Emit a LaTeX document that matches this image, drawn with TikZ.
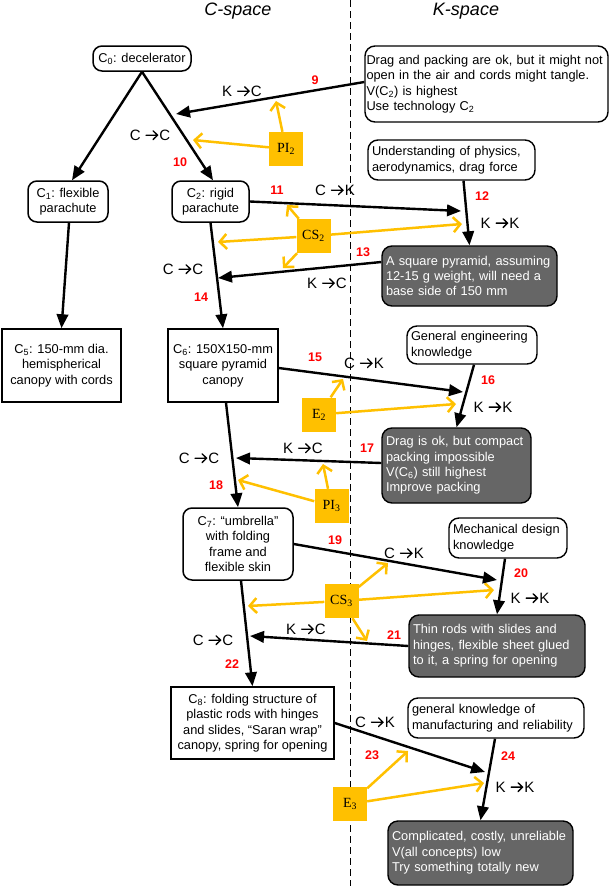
\documentclass[tikz,border=0pt]{standalone}
\usepackage{fontspec}
\setmainfont{Liberation Sans}
\newfontfamily\serifbox{Liberation Serif}
\usetikzlibrary{arrows.meta,calc}
\definecolor{ygold}{RGB}{255,192,0}
\definecolor{kgray}{RGB}{102,102,102}
\newcommand\myarr{\hspace{0.32em}\tikz[x=1pt,y=1pt,baseline=0pt]{\draw[line width=1.3pt,line cap=round,line join=miter] (0,5)--(11.5,5) (7,0.6)--(11.5,5)--(7,9.4);}\hspace{0.08em}}
\begin{document}
\begin{tikzpicture}[x=1pt,y=-1pt,
  txt/.style={font=\fontsize{12.8}{15.4}\selectfont},
  cnode/.style={txt,draw,line width=1.5pt,rounded corners=9pt,align=center,inner sep=1pt},
  crect/.style={txt,draw,line width=1.5pt,align=center,inner sep=1pt},
  knode/.style={txt,draw,line width=1.4pt,rounded corners=10pt,align=left,inner xsep=4pt,inner ysep=1pt},
  kgraybox/.style={knode,fill=kgray,text=white},
  ybox/.style={fill=ygold,minimum size=34pt,inner sep=0pt,font=\serifbox\fontsize{14}{16}\selectfont},
  num/.style={text=red,font=\bfseries\fontsize{12.5}{12.5}\selectfont},
  lab/.style={font=\fontsize{15}{15}\selectfont},
  head/.style={font=\itshape\fontsize{18}{18}\selectfont},
  blk/.style={line width=2.4pt,-{Triangle[length=14pt,width=11.5pt]}},
  yarr/.style={draw=ygold,line width=2.5pt,-{Straight Barb[length=7pt,width=15pt]}}]
\useasboundingbox (0,0) rectangle (609,886);

% headers and divider
\node[head] (hc) at (238,11) {C-space};
\node[head] (hk) at (466,11) {K-space};
\coordinate (dtop) at (350,0);
\coordinate (dbot) at (350,886);
\draw[line width=0.8pt,dash pattern=on 7pt off 4pt] (dtop) -- (dbot);

% C-space nodes
\node[cnode,minimum width=98pt,minimum height=25pt] (C0) at (142,58.5) {C\textsubscript{0}: decelerator};
\node[cnode,minimum width=80pt,minimum height=41pt] (C1) at (68,201.5) {C\textsubscript{1}: flexible\\parachute};
\node[cnode,minimum width=77pt,minimum height=41pt] (C2) at (210.5,201.5) {C\textsubscript{2}: rigid\\parachute};
\node[crect,minimum width=119pt,minimum height=73pt] (C5) at (61.5,365.5) {C\textsubscript{5}: 150-mm dia.\\hemispherical\\canopy with cords};
\node[crect,minimum width=110pt,minimum height=73pt] (C6) at (223,365.5) {C\textsubscript{6}: 150X150-mm\\square pyramid\\canopy};
\node[cnode,minimum width=110pt,minimum height=72pt] (C7) at (238,544) {C\textsubscript{7}: “umbrella”\\with folding\\frame and\\flexible skin};
\node[crect,minimum width=163pt,minimum height=72pt] (C8) at (252.5,723) {C\textsubscript{8}: folding structure of\\plastic rods with hinges\\and slides, “Saran wrap”\\canopy, spring for opening};

% K-space nodes
\node[knode,inner xsep=1.5pt,text width=240pt,minimum height=76pt] (K1) at (486.5,84) {Drag and packing are ok, but it might not\\open in the air and cords might tangle.\\V(C\textsubscript{2}) is highest\\Use technology C\textsubscript{2}};
\node[knode,text width=159pt,minimum height=40pt] (K2) at (451.5,160) {Understanding of physics,\\aerodynamics, drag force};
\node[kgraybox,text width=167pt,minimum height=60pt] (K3) at (469.5,276) {A square pyramid, assuming\\12-15 g weight, will need a\\base side of 150 mm};
\node[knode,text width=122pt,minimum height=38pt] (K4) at (472,345) {General engineering\\knowledge};
\node[kgraybox,text width=141pt,minimum height=75pt] (K5) at (456.5,465.5) {Drag is ok, but compact\\packing impossible\\V(C\textsubscript{6}) still highest\\Improve packing};
\node[knode,text width=110pt,minimum height=40pt] (K6) at (508,538) {Mechanical design\\knowledge};
\node[kgraybox,text width=168pt,minimum height=62pt] (K7) at (497,646) {Thin rods with slides and\\hinges, flexible sheet glued\\to it, a spring for opening};
\node[knode,text width=168pt,minimum height=40pt] (K8) at (496,718) {general knowledge of\\manufacturing and reliability};
\node[kgraybox,text width=177pt,minimum height=64pt] (K9) at (480.5,853) {Complicated, costly, unreliable\\V(all concepts) low\\Try something totally new};

% yellow boxes
\node[ybox] (PI2) at (286,149) {PI\textsubscript{2}};
\node[ybox] (CS2) at (313.5,236) {CS\textsubscript{2}};
\node[ybox] (E2) at (319,414.5) {E\textsubscript{2}};
\node[ybox] (PI3) at (331.5,506) {PI\textsubscript{3}};
\node[ybox] (CS3) at (341.5,601) {CS\textsubscript{3}};
\node[ybox] (E3) at (350,804) {E\textsubscript{3}};

% targets on connectors
\coordinate (t9) at (176,114);
\coordinate (t11) at (461,211);
\coordinate (t13) at (218,278);
\coordinate (t15) at (463,392);
\coordinate (t17) at (236,458);
\coordinate (t19) at (497,580);
\coordinate (t21) at (250,636);
\coordinate (t23) at (485,772);

\coordinate (pa) at (193,140);
\coordinate (pb) at (276,101);
\coordinate (ca) at (218,242);
\coordinate (cb) at (287,205);
\coordinate (cc) at (283,268);
\coordinate (cd) at (462,224);
\coordinate (ea) at (343,379);
\coordinate (eb) at (456,404);
\coordinate (qa) at (238,480);
\coordinate (qb) at (323,464);
\coordinate (da) at (248,606);
\coordinate (db) at (388,563);
\coordinate (dc) at (494,590);
\coordinate (dd) at (367,641);
\coordinate (fa) at (408,751);
\coordinate (fb) at (484,783);

% yellow arrows
\draw[yarr] (PI2) -- (pa);
\draw[yarr] (PI2) -- (pb);
\draw[yarr] (CS2) -- (ca);
\draw[yarr] (CS2) -- (cb);
\draw[yarr] (CS2) -- (cc);
\draw[yarr] (CS2) -- (cd);
\draw[yarr] (E2) -- (ea);
\draw[yarr] (E2) -- (eb);
\draw[yarr] (PI3) -- (qa);
\draw[yarr] (PI3) -- (qb);
\draw[yarr] (CS3) -- (da);
\draw[yarr] (CS3) -- (db);
\draw[yarr] (CS3) -- (dc);
\draw[yarr] (CS3) -- (dd);
\draw[yarr] (E3) -- (fa);
\draw[yarr] (E3) -- (fb);

% black arrows: C-space
\draw[blk] (C0.south) -- ([xshift=4pt]C1.north);
\draw[blk] (C0.south) -- ([xshift=2.5pt]C2.north);
\draw[blk] ([xshift=1pt]C1.south) -- (C5.north);
\draw[blk] (C2.south) -- (C6.north);
\draw[blk] ([xshift=3pt]C6.south) -- (C7.north);
\draw[blk] ([xshift=3pt]C7.south) -- (C8.north);
% K-space
\draw[blk] ([xshift=12pt]K2.south) -- (K3.north);
\draw[blk] ([xshift=2pt]K4.south) -- (K5.north);
\draw[blk] ([xshift=-3pt]K6.south) -- (K7.north);
\draw[blk] ([xshift=-1pt]K8.south) -- (K9.north);
% cross arrows
\draw[blk] ([yshift=2pt]K1.west) -- (t9);
\draw[blk] (C2.east) -- (t11);
\draw[blk] ([yshift=14pt]K3.west) -- (t13);
\draw[blk] ([yshift=-2.5pt]C6.east) -- (t15);
\draw[blk] ([yshift=2.5pt]K5.west) -- (t17);
\draw[blk] (C7.east) -- (t19);
\draw[blk] (K7.west) -- (t21);
\draw[blk] (C8.east) -- (t23);

% red numbers
\node[num] (n9) at (315,80) {9};
\node[num] (n10) at (180,162) {10};
\node[num] (n11) at (277,190) {11};
\node[num] (n12) at (482,196) {12};
\node[num] (n13) at (363,252) {13};
\node[num] (n14) at (201,297) {14};
\node[num] (n15) at (315,357) {15};
\node[num] (n16) at (488,380) {16};
\node[num] (n17) at (367,448) {17};
\node[num] (n18) at (216,485) {18};
\node[num] (n19) at (335,540) {19};
\node[num] (n20) at (521,573) {20};
\node[num] (n21) at (394,635) {21};
\node[num] (n22) at (232,664) {22};
\node[num] (n23) at (372,755) {23};
\node[num] (n24) at (508,756) {24};

% arrow-type labels
\node[lab] (l9) at (242,91) {K\myarr C};
\node[lab] (l10) at (150,135) {C\myarr C};
\node[lab] (l11) at (335,190) {C\myarr K};
\node[lab] (l12) at (500,223) {K\myarr K};
\node[lab] (l13) at (327,283) {K\myarr C};
\node[lab] (l14) at (183,269) {C\myarr C};
\node[lab] (l15) at (364,363) {C\myarr K};
\node[lab] (l16) at (493,407) {K\myarr K};
\node[lab] (l17) at (303,448) {K\myarr C};
\node[lab] (l18) at (199,458) {C\myarr C};
\node[lab] (l19) at (404,553) {C\myarr K};
\node[lab] (l20) at (530,598) {K\myarr K};
\node[lab] (l21) at (306,629) {K\myarr C};
\node[lab] (l22) at (213,640) {C\myarr C};
\node[lab] (l23) at (375,722) {C\myarr K};
\node[lab] (l24) at (515,787) {K\myarr K};
\end{tikzpicture}
\end{document}
